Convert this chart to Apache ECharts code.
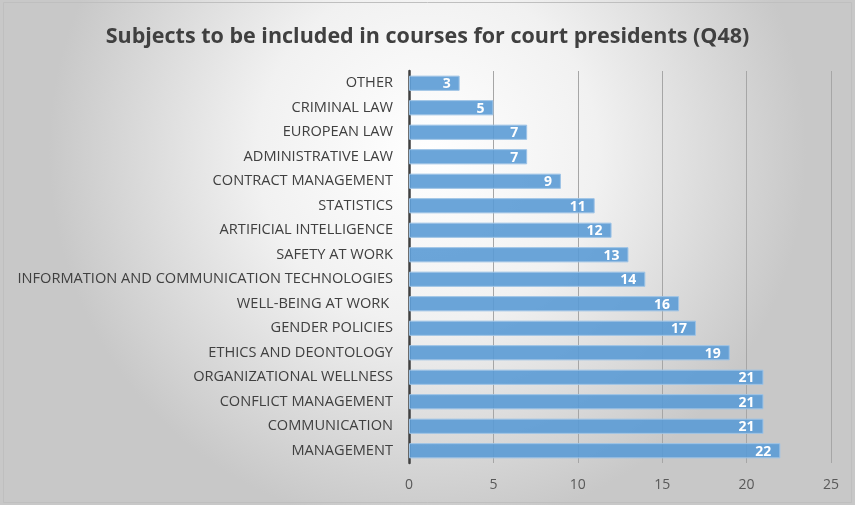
<!DOCTYPE html>
<html>
<head>
<meta charset="utf-8">
<script src="https://cdn.jsdelivr.net/npm/echarts@6/dist/echarts.min.js"></script>
<style>
  html, body { margin: 0; padding: 0; background: #ffffff; }
  #chart { width: 855px; height: 505px; }
</style>
</head>
<body>
<div id="chart"></div>
<script>
// Survey answers: subjects suggested for court presidents' training (Q48)
const categories = [
  'MANAGEMENT',
  'COMMUNICATION',
  'CONFLICT MANAGEMENT',
  'ORGANIZATIONAL WELLNESS',
  'ETHICS AND DEONTOLOGY',
  'GENDER POLICIES',
  'WELL-BEING AT WORK ',
  'INFORMATION AND COMMUNICATION TECHNOLOGIES',
  'SAFETY AT WORK',
  'ARTIFICIAL INTELLIGENCE',
  'STATISTICS',
  'CONTRACT MANAGEMENT',
  'ADMINISTRATIVE LAW',
  'EUROPEAN LAW',
  'CRIMINAL LAW',
  'OTHER'
];
const counts = [22, 21, 21, 21, 19, 17, 16, 14, 13, 12, 11, 9, 7, 7, 5, 3];
const axisMax = 25;
const axisStep = 5;

const chart = echarts.init(document.getElementById('chart'), null, { renderer: 'canvas' });

chart.setOption({
  backgroundColor: {
    type: 'radial', x: 0.5, y: 0.3, r: 0.75,
    colorStops: [
      { offset: 0, color: '#ffffff' },
      { offset: 0.45, color: '#f1f1f1' },
      { offset: 1, color: '#c8c8c8' }
    ]
  },
  animation: false,
  title: {
    text: 'Subjects to be included in courses for court presidents (Q48)',
    left: 'center',
    top: 21,
    textStyle: {
      fontFamily: 'Open Sans',
      fontWeight: 'bold',
      fontSize: 21.5,
      color: '#404040'
    }
  },
  graphic: [{
    type: 'rect',
    shape: { x: 3.5, y: 2.5, width: 848, height: 500 },
    style: { fill: 'none', stroke: '#bfbfbf', lineWidth: 1 },
    silent: true
  }],
  grid: { left: 409, right: 24, top: 71, bottom: 42, containLabel: false },
  xAxis: {
    type: 'value',
    min: 0,
    max: axisMax,
    interval: axisStep,
    axisLine: { show: false },
    axisTick: { show: false },
    axisLabel: {
      color: '#595959',
      fontFamily: 'Open Sans',
      fontSize: 14,
      margin: 15
    },
    splitLine: { show: true, lineStyle: { color: '#a6a6a6', width: 1 } }
  },
  yAxis: {
    type: 'category',
    data: categories,
    axisLine: { show: true, lineStyle: { color: '#404040', width: 2.5 } },
    axisTick: { show: false },
    axisLabel: {
      color: '#404040',
      fontFamily: 'Open Sans',
      fontSize: 14.6,
      margin: 16
    }
  },
  series: [{
    type: 'bar',
    data: counts,
    barWidth: '62%',
    itemStyle: {
      color: 'rgba(91,155,213,0.9)',
      borderColor: '#9dc3e6',
      borderWidth: 1
    },
    label: {
      show: true,
      position: 'insideRight',
      distance: 9,
      color: '#ffffff',
      fontFamily: 'Open Sans',
      fontWeight: 'bold',
      fontSize: 14,
      offset: [0, 1]
    }
  }]
});
</script>
</body>
</html>
